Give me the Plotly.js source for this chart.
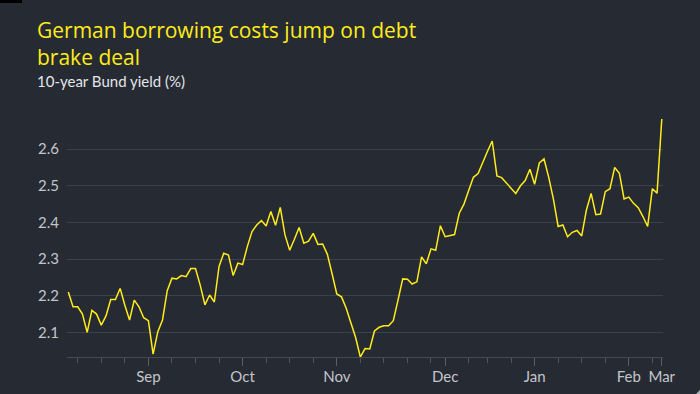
<!DOCTYPE html>
<html>
<head>
<meta charset="utf-8">
<script src="https://cdn.plot.ly/plotly-3.0.1.min.js"></script>
<style>
  html, body { margin: 0; padding: 0; background: #262a33; }
  #chart { width: 700px; height: 394px; }
</style>
</head>
<body>
<div id="chart"></div>
<script>
// 10-year Bund yield (%), one value per trading session
const yields = [
  2.21, 2.17, 2.17, 2.15, 2.10, 2.16, 2.15, 2.12, 2.145, 2.19,
  2.19, 2.22, 2.174, 2.134, 2.188, 2.17, 2.14, 2.132, 2.041, 2.102,
  2.134, 2.214, 2.248, 2.246, 2.255, 2.252, 2.274, 2.274, 2.229, 2.175,
  2.202, 2.183, 2.28, 2.316, 2.311, 2.255, 2.289, 2.285, 2.334, 2.375,
  2.393, 2.405, 2.39, 2.43, 2.392, 2.441, 2.366, 2.324, 2.354, 2.386,
  2.343, 2.349, 2.37, 2.34, 2.341, 2.313, 2.26, 2.205, 2.197, 2.166,
  2.126, 2.086, 2.033, 2.056, 2.055, 2.104, 2.114, 2.118, 2.118, 2.132,
  2.188, 2.246, 2.245, 2.232, 2.238, 2.306, 2.287, 2.328, 2.324, 2.391,
  2.361, 2.364, 2.367, 2.425, 2.45, 2.487, 2.523, 2.533, 2.566, 2.594,
  2.622, 2.527, 2.522, 2.507, 2.493, 2.479, 2.5, 2.514, 2.545, 2.504,
  2.562, 2.573, 2.523, 2.463, 2.389, 2.393, 2.361, 2.373, 2.378, 2.363,
  2.434, 2.479, 2.421, 2.423, 2.484, 2.492, 2.55, 2.534, 2.464, 2.469,
  2.452, 2.44, 2.416, 2.389, 2.492, 2.48, 2.682
];
// session index of each month label and of each weekly tick
const monthTickPos = [17, 37, 57, 80, 99, 119, 126];
const monthLabels = ["Sep", "Oct", "Nov", "Dec", "Jan", "Feb", "Mar"];
const weekTickPos = [2, 7, 12, 22, 27, 32, 42, 47, 52, 62, 67, 72, 77, 85, 89, 94, 104, 109, 114, 124];
const yTickVals = [2.1, 2.2, 2.3, 2.4, 2.5, 2.6];
const yTickText = ["2.1", "2.2", "2.3", "2.4", "2.5", "2.6"];

const titleText = "German borrowing costs jump on debt<br>brake deal";
const subtitleText = "10-year Bund yield (%)";

const session = yields.map((_, i) => i);

const BG = "#262a33";
const YELLOW = "#ffec1a";
const GRID = "#3b404a";
const TICKCOL = "#c3c6cc";
const FONT = "Lato, 'Open Sans', sans-serif";
const TITLEFONT = "'Open Sans', Lato, sans-serif";

const trace = {
  type: "scatter",
  mode: "lines",
  x: session,
  y: yields,
  line: { color: YELLOW, width: 1.5 },
  hoverinfo: "skip"
};

const layout = {
  width: 700,
  height: 394,
  paper_bgcolor: BG,
  plot_bgcolor: BG,
  font: { family: FONT, color: TICKCOL, size: 15 },
  margin: { l: 67, r: 37, t: 119, b: 37, pad: 0 },
  showlegend: false,
  title: {
    text: titleText,
    font: { family: TITLEFONT, size: 21, color: YELLOW },
    x: 37 / 700,
    xanchor: "left",
    xref: "container",
    y: 1 - 38 / 394,
    yanchor: "top",
    yref: "container"
  },
  annotations: [
    { text: subtitleText, xref: "paper", yref: "paper",
      x: (35 - 67) / 596, y: (357 - 81) / 238, xanchor: "left", yanchor: "middle",
      showarrow: false, font: { family: FONT, size: 15, color: "#e4e5e8" } }
  ],
  xaxis: {
    range: [-0.28, 126.26],
    showgrid: false,
    zeroline: false,
    showline: true,
    linecolor: "#454a54",
    linewidth: 1,
    tickmode: "array",
    tickvals: monthTickPos,
    ticktext: monthLabels,
    ticks: "outside",
    ticklen: 8,
    tickwidth: 1,
    tickcolor: "#5a5f69",
    ticklabelstandoff: -2,
    tickfont: { family: FONT, size: 15, color: TICKCOL },
    minor: {
      tickmode: "array",
      tickvals: weekTickPos,
      ticks: "outside",
      ticklen: 5,
      tickwidth: 1,
      tickcolor: "#4d525c",
      showgrid: false
    },
    fixedrange: true
  },
  yaxis: {
    range: [2.033, 2.682],
    tickmode: "array",
    tickvals: yTickVals,
    ticktext: yTickText,
    showgrid: true,
    gridcolor: GRID,
    gridwidth: 1,
    zeroline: false,
    showline: false,
    ticks: "",
    ticklabelstandoff: 7,
    tickfont: { family: FONT, size: 15, color: TICKCOL },
    fixedrange: true
  },
  shapes: [
    { type: "rect", xref: "paper", yref: "paper",
      x0: -67 / 596, x1: -45 / 596, y0: 1 + (119 - 3) / 238, y1: 1 + 119 / 238,
      fillcolor: "#000000", line: { width: 0 }, layer: "above" },
    { type: "path", xref: "paper", yref: "paper",
      path: "M " + (633 / 596) + " " + (-33 / 238) + " L " + (633 / 596) + " " + (-37 / 238) +
            " L " + (629 / 596) + " " + (-37 / 238) + " Z",
      fillcolor: "#aeb1b6", line: { width: 0 } }
  ]
};

Plotly.newPlot("chart", [trace], layout, { displayModeBar: false, staticPlot: true });
</script>
</body>
</html>
